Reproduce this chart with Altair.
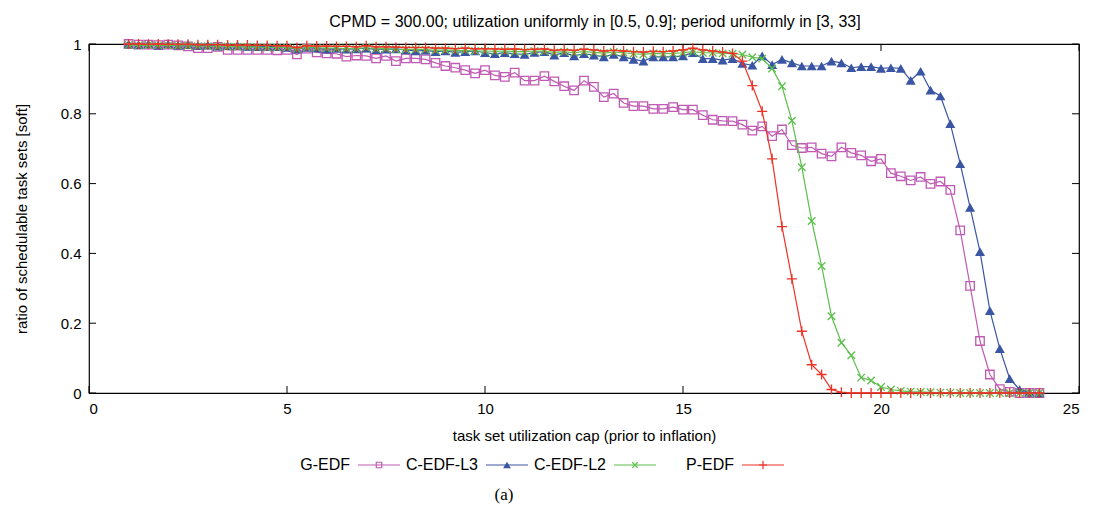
import altair as alt
import pandas as pd

# ---------------- data ----------------
X = [1.00, 1.25, 1.50, 1.75, 2.00, 2.25, 2.50, 2.75, 3.00, 3.25, 3.50, 3.75,
     4.00, 4.25, 4.50, 4.75, 5.00, 5.25, 5.50, 5.75, 6.00, 6.25, 6.50, 6.75,
     7.00, 7.25, 7.50, 7.75, 8.00, 8.25, 8.50, 8.75, 9.00, 9.25, 9.50, 9.75,
     10.00, 10.25, 10.50, 10.75, 11.00, 11.25, 11.50, 11.75, 12.00, 12.25, 12.50, 12.75,
     13.00, 13.25, 13.50, 13.75, 14.00, 14.25, 14.50, 14.75, 15.00, 15.25, 15.50, 15.75,
     16.00, 16.25, 16.50, 16.75, 17.00, 17.25, 17.50, 17.75, 18.00, 18.25, 18.50, 18.75,
     19.00, 19.25, 19.50, 19.75, 20.00, 20.25, 20.50, 20.75, 21.00, 21.25, 21.50, 21.75,
     22.00, 22.25, 22.50, 22.75, 23.00, 23.25, 23.50, 23.75, 24.00]

G_EDF = [1.000, 0.998, 0.998, 0.997,
         0.998, 0.996, 0.993, 0.988,
         0.988, 0.992, 0.983, 0.983,
         0.983, 0.983, 0.983, 0.982,
         0.983, 0.970, 0.987, 0.976,
         0.973, 0.972, 0.964, 0.967,
         0.966, 0.959, 0.966, 0.951,
         0.959, 0.959, 0.956, 0.946,
         0.937, 0.932, 0.925, 0.916,
         0.925, 0.910, 0.906, 0.918,
         0.895, 0.895, 0.908, 0.893,
         0.879, 0.867, 0.895, 0.877,
         0.848, 0.858, 0.831, 0.822,
         0.822, 0.814, 0.814, 0.819,
         0.812, 0.812, 0.796, 0.783,
         0.780, 0.779, 0.769, 0.752,
         0.764, 0.736, 0.755, 0.710,
         0.702, 0.704, 0.686, 0.678,
         0.704, 0.688, 0.681, 0.664,
         0.671, 0.630, 0.621, 0.609,
         0.619, 0.599, 0.606, 0.582,
         0.466, 0.307, 0.149, 0.053,
         0.011, 0.003, 0.000, 0.000,
         0.000]

C_EDF_L3 = [1.000, 0.998, 1.000, 0.997,
            1.000, 0.997, 0.998, 0.995,
            0.997, 0.994, 0.995, 0.996,
            0.993, 0.992, 0.993, 0.992,
            0.990, 0.985, 0.990, 0.988,
            0.985, 0.987, 0.985, 0.986,
            0.988, 0.984, 0.985, 0.986,
            0.983, 0.980, 0.982, 0.978,
            0.980, 0.976, 0.978, 0.980,
            0.975, 0.972, 0.975, 0.972,
            0.970, 0.976, 0.978, 0.968,
            0.975, 0.966, 0.972, 0.968,
            0.963, 0.970, 0.963, 0.956,
            0.951, 0.963, 0.963, 0.963,
            0.966, 0.975, 0.958, 0.958,
            0.954, 0.958, 0.944, 0.939,
            0.966, 0.941, 0.956, 0.946,
            0.937, 0.937, 0.937, 0.951,
            0.946, 0.932, 0.935, 0.935,
            0.930, 0.932, 0.930, 0.896,
            0.922, 0.868, 0.851, 0.772,
            0.657, 0.532, 0.405, 0.236,
            0.127, 0.041, 0.010, 0.002,
            0.000]

C_EDF_L2 = [0.997, 0.996, 0.997, 0.996,
            0.996, 0.995, 0.995, 0.994,
            0.994, 0.993, 0.993, 0.992,
            0.992, 0.991, 0.990, 0.990,
            0.990, 0.986, 0.990, 0.989,
            0.988, 0.988, 0.987, 0.986,
            0.990, 0.986, 0.987, 0.985,
            0.984, 0.985, 0.984, 0.982,
            0.983, 0.981, 0.982, 0.980,
            0.980, 0.979, 0.980, 0.978,
            0.978, 0.980, 0.979, 0.976,
            0.978, 0.975, 0.978, 0.976,
            0.974, 0.977, 0.975, 0.972,
            0.970, 0.973, 0.972, 0.973,
            0.975, 0.978, 0.975, 0.975,
            0.973, 0.972, 0.970, 0.962,
            0.958, 0.930, 0.879, 0.780,
            0.647, 0.493, 0.364, 0.220,
            0.144, 0.108, 0.044, 0.036,
            0.017, 0.010, 0.006, 0.004,
            0.003, 0.002, 0.001, 0.001,
            0.000, 0.000, 0.000, 0.000,
            0.000, 0.000, 0.000, 0.000,
            0.000]

P_EDF = [1.000, 1.000, 0.999, 1.000,
         0.999, 0.999, 0.999, 0.998,
         0.998, 0.998, 0.997, 0.997,
         0.997, 0.996, 0.996, 0.995,
         0.995, 0.990, 0.995, 0.994,
         0.994, 0.993, 0.993, 0.992,
         0.995, 0.992, 0.992, 0.991,
         0.990, 0.990, 0.990, 0.988,
         0.988, 0.987, 0.988, 0.986,
         0.987, 0.986, 0.985, 0.986,
         0.984, 0.985, 0.986, 0.982,
         0.984, 0.982, 0.985, 0.983,
         0.980, 0.982, 0.980, 0.978,
         0.977, 0.979, 0.978, 0.980,
         0.983, 0.988, 0.983, 0.980,
         0.977, 0.973, 0.951, 0.881,
         0.807, 0.671, 0.477, 0.327,
         0.177, 0.081, 0.053, 0.010,
         0.002, 0.000, 0.000, 0.000,
         0.000, 0.000, 0.000, 0.000,
         0.000, 0.000, 0.000, 0.000,
         0.000, 0.000, 0.000, 0.000,
         0.000, 0.000, 0.000, 0.000,
         0.000]

SERIES = ["G-EDF", "C-EDF-L3", "C-EDF-L2", "P-EDF"]
VALUES = [G_EDF, C_EDF_L3, C_EDF_L2, P_EDF]
COLORS = ["#c05ab4", "#3a55a4", "#5cbf4c", "#ec3326"]

X_TICKS = [0, 5, 10, 15, 20, 25]
Y_TICKS = [0, 0.2, 0.4, 0.6, 0.8, 1.0]

TITLE = "CPMD = 300.00; utilization uniformly in [0.5, 0.9]; period uniformly in [3, 33]"
X_TITLE = "task set utilization cap (prior to inflation)"
Y_TITLE = "ratio of schedulable task sets [soft]"
CAPTION = "(a)"

# marker styles (plot, legend)
MARKERS = {
    "G-EDF": dict(shape="square", filled=False, size=72, lsize=30, sw=1.3),
    "C-EDF-L3": dict(shape="triangle-up", filled=True, size=100, lsize=60, sw=0),
    "C-EDF-L2": dict(shape="M-1,-1L1,1M-1,1L1,-1", filled=False, size=56, lsize=30, sw=1.3),
    "P-EDF": dict(shape="M-1,0H1M0,-1V1", filled=False, size=100, lsize=64, sw=1.3),
}

FONT = "Liberation Sans"
W, H = 990, 349

rows = []
for name, vals in zip(SERIES, VALUES):
    for x, v in zip(X, vals):
        rows.append({"x": x, "v": v, "series": name})
df = pd.DataFrame(rows)

xscale = alt.Scale(domain=[0, 25], nice=False, zero=False)
yscale = alt.Scale(domain=[0, 1], nice=False, zero=False)

xaxis = alt.Axis(values=X_TICKS, ticks=False, domain=False, grid=False,
                 labelPadding=8, titlePadding=12, labelFontSize=15, titleFontSize=15,
                 labelFont=FONT, titleFont=FONT, labelColor="black", titleColor="black",
                 titleFontWeight="normal", format="d")
yaxis = alt.Axis(values=Y_TICKS, ticks=False, domain=False, grid=False,
                 labelPadding=8, titlePadding=31, labelFontSize=15, titleFontSize=15,
                 labelFont=FONT, titleFont=FONT, labelColor="black", titleColor="black",
                 titleFontWeight="normal", format=".1~f")

XENC = alt.X("x:Q", scale=xscale, axis=xaxis, title=X_TITLE)
YENC = alt.Y("v:Q", scale=yscale, axis=yaxis, title=Y_TITLE)

layers = []
for name, color in zip(SERIES, COLORS):
    m = MARKERS[name]
    sub = df[df["series"] == name]
    base = alt.Chart(sub).encode(x=XENC, y=YENC)
    layers.append(base.mark_line(color=color, strokeWidth=1.2))
    pt = dict(shape=m["shape"], size=m["size"], filled=m["filled"], opacity=1)
    if m["filled"]:
        pt.update(fill=color, strokeWidth=0)
    else:
        pt.update(stroke=color, strokeWidth=m["sw"])
    layers.append(base.mark_point(**pt))

# inward ticks (gnuplot-style), all through the scales
xt_bottom = pd.DataFrame({"x": X_TICKS, "v": [0] * len(X_TICKS)})
xt_top = pd.DataFrame({"x": X_TICKS, "v": [1] * len(X_TICKS)})
yt_left = pd.DataFrame({"x": [0] * len(Y_TICKS), "v": Y_TICKS})
yt_right = pd.DataFrame({"x": [25] * len(Y_TICKS), "v": Y_TICKS})
TL = 7
tick_layers = [
    alt.Chart(xt_bottom).mark_rule(color="black", strokeWidth=1, y2Offset=-TL).encode(x=XENC, y=YENC, y2="v"),
    alt.Chart(xt_top).mark_rule(color="black", strokeWidth=1, y2Offset=TL).encode(x=XENC, y=YENC, y2="v"),
    alt.Chart(yt_left).mark_rule(color="black", strokeWidth=1, x2Offset=TL).encode(x=XENC, y=YENC, x2="x"),
    alt.Chart(yt_right).mark_rule(color="black", strokeWidth=1, x2Offset=-TL).encode(x=XENC, y=YENC, x2="x"),
]

main = alt.layer(*(tick_layers + layers)).properties(
    width=W, height=H,
    title=alt.TitleParams(TITLE, font=FONT, fontSize=16, fontWeight="normal",
                          color="black", anchor="middle", offset=6, dx=11),
    view=alt.ViewBackground(stroke="black", strokeWidth=1.2),
)

# ---------------- custom legend (label on the left, symbol on the right) ----------------
leg_df = pd.DataFrame({"name": SERIES, "slot": [0, 1, 2, 3]})
STRIDE = 128.0
lscale = alt.Scale(domain=[-290 / STRIDE, (W - 290) / STRIDE], nice=False, zero=False)
LX = alt.X("slot:Q", scale=lscale, axis=None)
LY = alt.value(8)
cscale = alt.Scale(domain=SERIES, range=COLORS)

leg_layers = [
    alt.Chart(leg_df).mark_text(align="right", baseline="middle", dx=-29, fontSize=16,
                                font=FONT, color="black").encode(x=LX, y=LY, text="name:N"),
    alt.Chart(leg_df).mark_rule(xOffset=-21, x2Offset=21, strokeWidth=1.2).encode(
        x=LX, x2="slot", y=LY, color=alt.Color("name:N", scale=cscale, legend=None)),
]
for name, color in zip(SERIES, COLORS):
    m = MARKERS[name]
    pt = dict(shape=m["shape"], size=m["lsize"], filled=m["filled"], opacity=1)
    if m["filled"]:
        pt.update(fill=color, strokeWidth=0)
    else:
        pt.update(stroke=color, strokeWidth=1.2)
    leg_layers.append(alt.Chart(leg_df[leg_df["name"] == name]).mark_point(**pt).encode(x=LX, y=LY))

legend = alt.layer(*leg_layers).properties(
    width=W, height=16,
    title=alt.TitleParams(CAPTION, orient="bottom", font="Liberation Serif", fontSize=17,
                          fontWeight="normal", color="black", anchor="middle", dx=-80, offset=14),
    view=alt.ViewBackground(stroke="transparent"),
)

chart = alt.vconcat(main, legend, spacing=12).resolve_scale(
    x="independent", y="independent", color="independent"
).configure_view(stroke="transparent").configure(background="white")

chart.save("out.html", embed_options={"renderer": "svg", "actions": False})
